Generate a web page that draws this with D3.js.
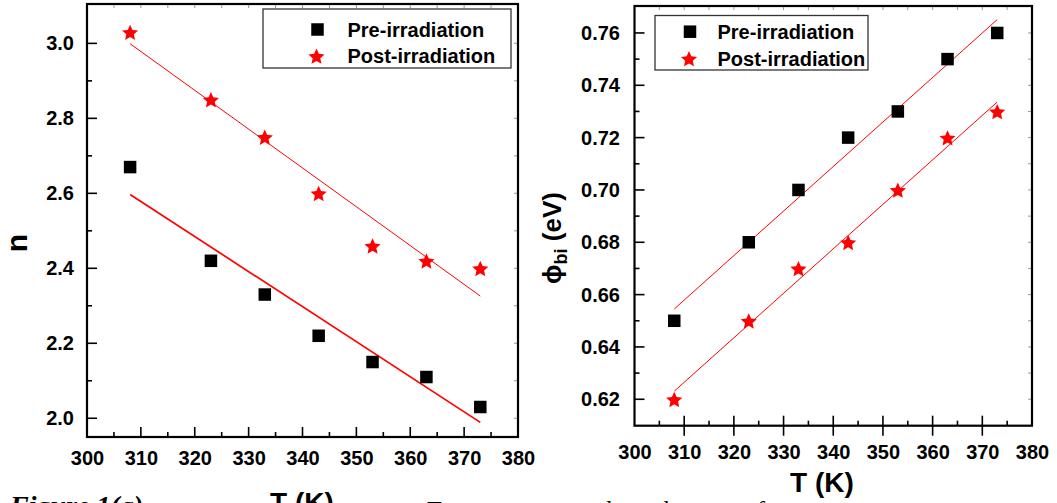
<!DOCTYPE html>
<html><head><meta charset="utf-8">
<script src="https://cdn.jsdelivr.net/npm/d3@7"></script>
<style>body{margin:0;background:#fff} svg{display:block}</style>
</head><body>
<svg id="c" width="1057" height="503"></svg>
<script>
// ---------- data ----------
const temps = [308, 323, 333, 343, 353, 363, 373];
const nPre = [2.67, 2.42, 2.33, 2.22, 2.15, 2.11, 2.03];
const nPost = [3.03, 2.85, 2.75, 2.60, 2.46, 2.42, 2.40];
const phiPre = [0.65, 0.68, 0.70, 0.72, 0.73, 0.75, 0.76];
const phiPost = [0.62, 0.65, 0.67, 0.68, 0.70, 0.72, 0.73];
const fitT = [308, 373];
const nPreFit = [2.597, 1.989];
const nPostFit = [2.999, 2.326];
const phiPreFit = [0.6545, 0.7651];
const phiPostFit = [0.6231, 0.7336];
const xTicks = [300, 310, 320, 330, 340, 350, 360, 370, 380];
const xMinor = [305, 315, 325, 335, 345, 355, 365, 375];
const nTicks = [2.0, 2.2, 2.4, 2.6, 2.8, 3.0];
const nMinor = [2.1, 2.3, 2.5, 2.7, 2.9];
const phiTicks = [0.62, 0.64, 0.66, 0.68, 0.70, 0.72, 0.74, 0.76];
const phiMinor = [0.61, 0.63, 0.65, 0.67, 0.69, 0.71, 0.73, 0.75, 0.77];
const seriesNames = ["Pre-irradiation", "Post-irradiation"];
const xTitle = "T (K)";
const nTitle = "n";
const captionLead = "Figure 1(a)";
const captionWords = ["Temperature", "dependence", "of"];

const svg = d3.select("#c");
const FONT = "'Liberation Sans', Arial, Helvetica, sans-serif";
const SERIF = "'Liberation Serif', 'Times New Roman', serif";

// fatter five-point star (like Origin's star marker)
const fatStar = {
  draw(ctx, size) {
    const R = Math.sqrt(size), r = R * 0.47;
    for (let i = 0; i < 10; i++) {
      const a = -Math.PI / 2 + i * Math.PI / 5, rr = i % 2 ? r : R;
      const px = rr * Math.cos(a), py = rr * Math.sin(a);
      i ? ctx.lineTo(px, py) : ctx.moveTo(px, py);
    }
    ctx.closePath();
  }
};

function panel(o) {
  const x = d3.scaleLinear().domain([300, 380]).range(o.xr);
  const y = d3.scaleLinear().domain(o.yd).range(o.yr);
  const g = svg.append("g");
  const [x0, x1] = o.xr, [y0, y1] = o.yr; // y0 bottom, y1 top

  // mirrored light ticks (top and right)
  const light = g.append("g").attr("stroke", "#999").attr("stroke-width", 1);
  light.selectAll(".tt").data(xTicks.concat(xMinor)).join("line")
    .attr("x1", d => x(d)).attr("x2", d => x(d))
    .attr("y1", y1).attr("y2", y1 + 4);
  light.selectAll(".rt").data(o.yTicks.concat(o.yMinor).filter(v => y(v) > y1 + 2 && y(v) < y0 - 2)).join("line")
    .attr("y1", d => y(d)).attr("y2", d => y(d))
    .attr("x1", x1).attr("x2", x1 - 4);

  // main ticks
  const tk = g.append("g").attr("stroke", "#000").attr("stroke-width", 1.6);
  tk.selectAll(".bx").data(xTicks.filter(v => v > 300 && v < 380)).join("line")
    .attr("x1", d => x(d)).attr("x2", d => x(d))
    .attr("y1", y0 + o.xOut).attr("y2", y0 - 10);
  tk.selectAll(".bm").data(xMinor).join("line")
    .attr("x1", d => x(d)).attr("x2", d => x(d))
    .attr("y1", y0).attr("y2", y0 - 5);
  tk.selectAll(".ly").data(o.yTicks).join("line")
    .attr("y1", d => y(d)).attr("y2", d => y(d))
    .attr("x1", x0).attr("x2", x0 + 10);
  tk.selectAll(".lm").data(o.yMinor.filter(v => y(v) > y1 + 2 && y(v) < y0 - 2)).join("line")
    .attr("y1", d => y(d)).attr("y2", d => y(d))
    .attr("x1", x0).attr("x2", x0 + 5);

  // frame
  g.append("rect").attr("x", x0).attr("y", y1).attr("width", x1 - x0).attr("height", y0 - y1)
    .attr("fill", "none").attr("stroke", "#000").attr("stroke-width", 2.2);

  // tick labels via d3 axes
  const ax = g.append("g").attr("transform", `translate(0,${y0})`)
    .call(d3.axisBottom(x).tickValues(xTicks).tickSize(0).tickPadding(o.xPad).tickFormat(d3.format("d")));
  const ay = g.append("g").attr("transform", `translate(${x0},0)`)
    .call(d3.axisLeft(y).tickValues(o.yTicks).tickSize(0).tickPadding(o.yPad).tickFormat(d3.format(o.yFmt)));
  [ax, ay].forEach(a => {
    a.select(".domain").remove();
    a.selectAll("text").attr("font-family", FONT).attr("font-weight", "bold")
      .attr("font-size", 20).attr("fill", "#000");
  });

  // fit lines
  const line = d3.line().x(d => x(d[0])).y(d => y(d[1]));
  g.append("path").datum(fitT.map((t, i) => [t, o.fitPre[i]])).attr("d", line)
    .attr("fill", "none").attr("stroke", "#ff0000").attr("stroke-width", o.preW);
  g.append("path").datum(fitT.map((t, i) => [t, o.fitPost[i]])).attr("d", line)
    .attr("fill", "none").attr("stroke", "#ff0000").attr("stroke-width", 1);

  // markers
  g.selectAll(".sq").data(temps.map((t, i) => [t, o.pre[i]])).join("rect")
    .attr("x", d => x(d[0]) - 6.25).attr("y", d => y(d[1]) - 6.25)
    .attr("width", 12.5).attr("height", 12.5).attr("fill", "#000");
  const star = d3.symbol().type(fatStar).size(72);
  g.selectAll(".st").data(temps.map((t, i) => [t, o.post[i]])).join("path")
    .attr("d", star).attr("transform", d => `translate(${x(d[0])},${y(d[1]) + 1})`)
    .attr("fill", "#ff0000");

  // legend
  const L = o.leg;
  const lg = g.append("g");
  lg.append("rect").attr("x", L.x).attr("y", L.y).attr("width", L.w).attr("height", L.h)
    .attr("fill", "#fff").attr("stroke", "#333").attr("stroke-width", 1.3);
  lg.append("rect").attr("x", L.sx - 6.25).attr("y", L.r1 - 6.25).attr("width", 12.5).attr("height", 12.5).attr("fill", "#000");
  lg.append("path").attr("d", star).attr("transform", `translate(${L.sx - 1},${L.r2 + 1})`).attr("fill", "#ff0000");
  lg.selectAll("text").data(seriesNames).join("text")
    .attr("x", L.tx).attr("y", (d, i) => (i ? L.r2 : L.r1) + 7)
    .attr("font-family", FONT).attr("font-weight", "bold").attr("font-size", 20)
    .attr("fill", "#000").text(d => d);
  return { x, y, g };
}

const left = panel({
  xr: [87, 518], yr: [437, 4], yd: [1.95, 3.105],
  yTicks: nTicks, yMinor: nMinor, yFmt: ".1f",
  pre: nPre, post: nPost, fitPre: nPreFit, fitPost: nPostFit, preW: 1.7,
  xPad: 14, yPad: 13, xOut: 0,
  leg: { x: 263, y: 9, w: 248, h: 59, sx: 317.5, tx: 347.5, r1: 29.5, r2: 56 }
});
const right = panel({
  xr: [634.5, 1032], yr: [425.7, 6], yd: [0.6099, 0.7703],
  yTicks: phiTicks, yMinor: phiMinor, yFmt: ".2f",
  pre: phiPre, post: phiPost, fitPre: phiPreFit, fitPost: phiPostFit, preW: 1,
  xPad: 19, yPad: 14.5, xOut: 10,
  leg: { x: 655, y: 15.5, w: 213, h: 54.5, sx: 690, tx: 717.5, r1: 31.7, r2: 58.5 }
});

// axis titles
svg.append("text").attr("transform", "translate(27,243) rotate(-90)")
  .attr("text-anchor", "middle").attr("font-family", FONT).attr("font-weight", "bold")
  .attr("font-size", 30).text(nTitle);

const pt = svg.append("text").attr("transform", "translate(561,238) rotate(-90)")
  .attr("text-anchor", "middle").attr("font-family", FONT).attr("font-weight", "bold")
  .attr("font-size", 26);
pt.append("tspan").text("\u03D5");
pt.append("tspan").attr("font-size", 18).attr("dy", 6).text("bi");
pt.append("tspan").attr("dy", -6).text(" (eV)");

svg.append("text").attr("x", 822).attr("y", 492).attr("text-anchor", "middle")
  .attr("font-family", FONT).attr("font-weight", "bold").attr("font-size", 28).text(xTitle);
svg.append("text").attr("x", 302).attr("y", 512).attr("text-anchor", "middle")
  .attr("font-family", FONT).attr("font-weight", "bold").attr("font-size", 28).text(xTitle);

// caption fragment (clipped at bottom of picture, as in the source)
svg.append("text").attr("x", 10).attr("y", 515)
  .attr("font-family", SERIF).attr("font-weight", "bold").attr("font-style", "italic")
  .attr("font-size", 28).text(captionLead);
const capX = [427, 600, 745];
svg.selectAll(".cap").data(captionWords).join("text")
  .attr("x", (d, i) => capX[i]).attr("y", 517)
  .attr("font-family", SERIF).attr("font-size", 24).text(d => d);
</script>
</body></html>
